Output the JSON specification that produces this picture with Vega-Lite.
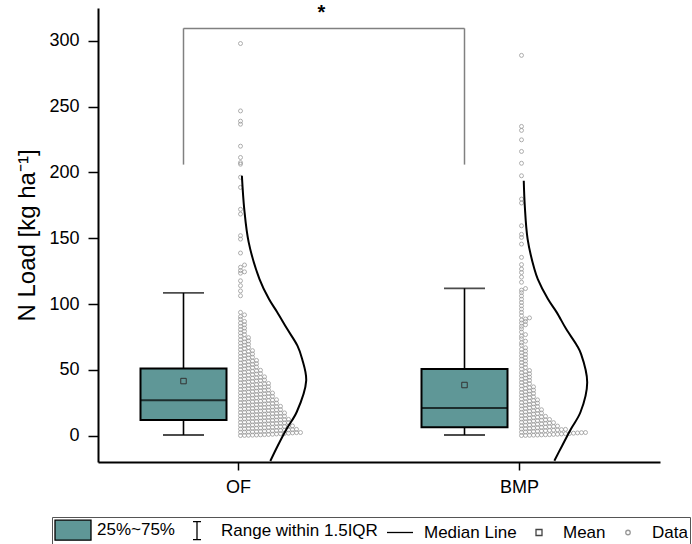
{
  "$schema": "https://vega.github.io/schema/vega-lite/v6.json",
  "width": 562,
  "height": 454,
  "autosize": {"type": "none"},
  "padding": {"left": 98, "top": 8, "right": 32, "bottom": 82},
  "background": "white",
  "config": {
    "font": "Liberation Sans",
    "view": {"stroke": null},
    "legend": {
      "orient": "none", "legendX": -46, "legendY": 509, "direction": "horizontal", "columns": 5,
      "strokeColor": "#555", "padding": 2, "labelFont": "Liberation Sans", "labelFontSize": 17,
      "labelColor": "#000", "symbolOpacity": 1, "columnPadding": 3, "labelOffset": 21, "symbolStrokeWidth": 1.3,
      "symbolSize": 400
    }
  },
  "datasets": {
    "stats": [
      {"g": "OF", "lo": 0.5, "q1": 12, "med": 27, "q3": 51, "hi": 108.5, "mean": 41.5},
      {"g": "BMP", "lo": 0.5, "q1": 6.4, "med": 21, "q3": 50.7, "hi": 112, "mean": 38.5}
    ],
    "legs": [
      {"g": "OF", "lo": 206, "hi": 309.5},
      {"g": "BMP", "lo": 206, "hi": 309.5}
    ],
    "bracket": [{"a": "OF", "b": "BMP", "top": 309.5, "sy": 321, "label": "*"}],
    "legend": [
      {"item": "25%~75%"}, {"item": "Range within 1.5IQR"}, {"item": "Median Line"}, {"item": "Mean"}, {"item": "Data"}
    ],
    "curve": [
      {"g": "OF", "v": -19.2, "d": 0.47}, {"g": "OF", "v": -7.6, "d": 0.58}, {"g": "OF", "v": 5.1, "d": 0.71},
      {"g": "OF", "v": 18, "d": 0.86}, {"g": "OF", "v": 41.8, "d": 1.0}, {"g": "OF", "v": 58.3, "d": 0.94},
      {"g": "OF", "v": 68.4, "d": 0.87}, {"g": "OF", "v": 81, "d": 0.72}, {"g": "OF", "v": 94, "d": 0.57},
      {"g": "OF", "v": 103.8, "d": 0.45}, {"g": "OF", "v": 119, "d": 0.31},
      {"g": "OF", "v": 147.1, "d": 0.15}, {"g": "OF", "v": 172.2, "d": 0.085}, {"g": "OF", "v": 197.5, "d": 0.05},
      {"g": "BMP", "v": -19, "d": 0.515}, {"g": "BMP", "v": -7.6, "d": 0.63}, {"g": "BMP", "v": 5.1, "d": 0.76},
      {"g": "BMP", "v": 17.8, "d": 0.90}, {"g": "BMP", "v": 40.5, "d": 1.0}, {"g": "BMP", "v": 62, "d": 0.91},
      {"g": "BMP", "v": 68.4, "d": 0.85}, {"g": "BMP", "v": 81, "d": 0.69}, {"g": "BMP", "v": 93.7, "d": 0.55},
      {"g": "BMP", "v": 103.8, "d": 0.42}, {"g": "BMP", "v": 119, "d": 0.27}, {"g": "BMP", "v": 126.6, "d": 0.22},
      {"g": "BMP", "v": 149.4, "d": 0.12}, {"g": "BMP", "v": 174.7, "d": 0.078}, {"g": "BMP", "v": 193.7, "d": 0.063}
    ],
    "pts": [
      {"g":"OF","v":0.1},{"g":"OF","v":0.2},{"g":"OF","v":0.3},{"g":"OF","v":0.4},{"g":"OF","v":0.5},{"g":"OF","v":0.6},{"g":"OF","v":0.8},{"g":"OF","v":0.9},{"g":"OF","v":1.1},{"g":"OF","v":1.3},{"g":"OF","v":1.5},{"g":"OF","v":1.7},{"g":"OF","v":1.9},{"g":"OF","v":2.1},{"g":"OF","v":2.3},{"g":"OF","v":2.4},
      {"g":"OF","v":2.6},{"g":"OF","v":2.7},{"g":"OF","v":2.8},{"g":"OF","v":3.0},{"g":"OF","v":3.1},{"g":"OF","v":3.3},{"g":"OF","v":3.4},{"g":"OF","v":3.6},{"g":"OF","v":3.7},{"g":"OF","v":3.9},{"g":"OF","v":4.0},{"g":"OF","v":4.2},{"g":"OF","v":4.4},{"g":"OF","v":4.6},{"g":"OF","v":4.8},
      {"g":"OF","v":5.1},{"g":"OF","v":5.2},{"g":"OF","v":5.4},{"g":"OF","v":5.5},{"g":"OF","v":5.7},{"g":"OF","v":5.8},{"g":"OF","v":6.0},{"g":"OF","v":6.2},{"g":"OF","v":6.4},{"g":"OF","v":6.6},{"g":"OF","v":6.8},{"g":"OF","v":7.0},{"g":"OF","v":7.2},{"g":"OF","v":7.4},
      {"g":"OF","v":7.6},{"g":"OF","v":7.7},{"g":"OF","v":7.9},{"g":"OF","v":8.1},{"g":"OF","v":8.3},{"g":"OF","v":8.5},{"g":"OF","v":8.7},{"g":"OF","v":8.9},{"g":"OF","v":9.1},{"g":"OF","v":9.3},{"g":"OF","v":9.5},{"g":"OF","v":9.7},{"g":"OF","v":9.9},
      {"g":"OF","v":10.1},{"g":"OF","v":10.2},{"g":"OF","v":10.4},{"g":"OF","v":10.6},{"g":"OF","v":10.8},{"g":"OF","v":11.0},{"g":"OF","v":11.2},{"g":"OF","v":11.4},{"g":"OF","v":11.6},{"g":"OF","v":11.8},{"g":"OF","v":12.0},{"g":"OF","v":12.2},{"g":"OF","v":12.4},
      {"g":"OF","v":12.6},{"g":"OF","v":12.8},{"g":"OF","v":13.0},{"g":"OF","v":13.2},{"g":"OF","v":13.4},{"g":"OF","v":13.6},{"g":"OF","v":13.8},{"g":"OF","v":14.0},{"g":"OF","v":14.2},{"g":"OF","v":14.4},{"g":"OF","v":14.6},{"g":"OF","v":14.8},
      {"g":"OF","v":15.1},{"g":"OF","v":15.3},{"g":"OF","v":15.5},{"g":"OF","v":15.7},{"g":"OF","v":15.9},{"g":"OF","v":16.1},{"g":"OF","v":16.3},{"g":"OF","v":16.5},{"g":"OF","v":16.7},{"g":"OF","v":16.9},{"g":"OF","v":17.1},{"g":"OF","v":17.3},
      {"g":"OF","v":17.6},{"g":"OF","v":17.8},{"g":"OF","v":18.0},{"g":"OF","v":18.2},{"g":"OF","v":18.5},{"g":"OF","v":18.7},{"g":"OF","v":18.9},{"g":"OF","v":19.1},{"g":"OF","v":19.3},{"g":"OF","v":19.5},{"g":"OF","v":19.8},
      {"g":"OF","v":20.1},{"g":"OF","v":20.3},{"g":"OF","v":20.5},{"g":"OF","v":20.7},{"g":"OF","v":21.0},{"g":"OF","v":21.2},{"g":"OF","v":21.4},{"g":"OF","v":21.6},{"g":"OF","v":21.9},{"g":"OF","v":22.1},{"g":"OF","v":22.3},
      {"g":"OF","v":22.6},{"g":"OF","v":22.9},{"g":"OF","v":23.1},{"g":"OF","v":23.3},{"g":"OF","v":23.6},{"g":"OF","v":23.8},{"g":"OF","v":24.0},{"g":"OF","v":24.2},{"g":"OF","v":24.4},{"g":"OF","v":24.7},
      {"g":"OF","v":25.1},{"g":"OF","v":25.3},{"g":"OF","v":25.5},{"g":"OF","v":25.8},{"g":"OF","v":26.0},{"g":"OF","v":26.2},{"g":"OF","v":26.5},{"g":"OF","v":26.8},{"g":"OF","v":27.0},{"g":"OF","v":27.3},
      {"g":"OF","v":27.6},{"g":"OF","v":27.8},{"g":"OF","v":28.1},{"g":"OF","v":28.4},{"g":"OF","v":28.7},{"g":"OF","v":29.0},{"g":"OF","v":29.3},{"g":"OF","v":29.6},{"g":"OF","v":29.9},
      {"g":"OF","v":30.1},{"g":"OF","v":30.3},{"g":"OF","v":30.6},{"g":"OF","v":30.9},{"g":"OF","v":31.2},{"g":"OF","v":31.5},{"g":"OF","v":31.8},{"g":"OF","v":32.1},{"g":"OF","v":32.4},
      {"g":"OF","v":32.6},{"g":"OF","v":32.9},{"g":"OF","v":33.2},{"g":"OF","v":33.5},{"g":"OF","v":33.8},{"g":"OF","v":34.1},{"g":"OF","v":34.4},{"g":"OF","v":34.7},
      {"g":"OF","v":35.1},{"g":"OF","v":35.4},{"g":"OF","v":35.7},{"g":"OF","v":36.0},{"g":"OF","v":36.3},{"g":"OF","v":36.6},{"g":"OF","v":36.9},{"g":"OF","v":37.2},
      {"g":"OF","v":37.6},{"g":"OF","v":37.9},{"g":"OF","v":38.2},{"g":"OF","v":38.5},{"g":"OF","v":38.8},{"g":"OF","v":39.1},{"g":"OF","v":39.4},{"g":"OF","v":39.7},
      {"g":"OF","v":40.2},{"g":"OF","v":40.5},{"g":"OF","v":40.9},{"g":"OF","v":41.2},{"g":"OF","v":41.6},{"g":"OF","v":41.9},{"g":"OF","v":42.3},
      {"g":"OF","v":42.6},{"g":"OF","v":43.0},{"g":"OF","v":43.3},{"g":"OF","v":43.7},{"g":"OF","v":44.0},{"g":"OF","v":44.3},{"g":"OF","v":44.7},
      {"g":"OF","v":45.2},{"g":"OF","v":45.6},{"g":"OF","v":46.0},{"g":"OF","v":46.4},{"g":"OF","v":46.8},{"g":"OF","v":47.2},
      {"g":"OF","v":47.7},{"g":"OF","v":48.1},{"g":"OF","v":48.5},{"g":"OF","v":48.9},{"g":"OF","v":49.3},{"g":"OF","v":49.7},
      {"g":"OF","v":50.2},{"g":"OF","v":50.7},{"g":"OF","v":51.2},{"g":"OF","v":51.7},{"g":"OF","v":52.2},
      {"g":"OF","v":52.7},{"g":"OF","v":53.2},{"g":"OF","v":53.7},{"g":"OF","v":54.2},{"g":"OF","v":54.7},
      {"g":"OF","v":55.2},{"g":"OF","v":55.7},{"g":"OF","v":56.2},{"g":"OF","v":56.7},{"g":"OF","v":57.2},
      {"g":"OF","v":57.8},{"g":"OF","v":58.4},{"g":"OF","v":59.0},{"g":"OF","v":59.6},
      {"g":"OF","v":60.3},{"g":"OF","v":60.9},{"g":"OF","v":61.5},{"g":"OF","v":62.1},
      {"g":"OF","v":62.8},{"g":"OF","v":63.4},{"g":"OF","v":64.0},{"g":"OF","v":64.6},
      {"g":"OF","v":65.4},{"g":"OF","v":66.2},{"g":"OF","v":67.0},
      {"g":"OF","v":67.9},{"g":"OF","v":68.7},{"g":"OF","v":69.5},
      {"g":"OF","v":70.4},{"g":"OF","v":71.2},{"g":"OF","v":72.0},
      {"g":"OF","v":72.9},{"g":"OF","v":73.7},{"g":"OF","v":74.5},
      {"g":"OF","v":75.6},{"g":"OF","v":76.8},{"g":"OF","v":78.1},{"g":"OF","v":79.3},{"g":"OF","v":80.6},{"g":"OF","v":81.8},
      {"g":"OF","v":83.1},{"g":"OF","v":84.3},{"g":"OF","v":85.6},{"g":"OF","v":86.8},{"g":"OF","v":88.5},{"g":"OF","v":90.5},{"g":"OF","v":91.8},{"g":"OF","v":93.7},
      {"g":"OF","v":106.3},{"g":"OF","v":110},{"g":"OF","v":114},{"g":"OF","v":117.7},{"g":"OF","v":123.5},{"g":"OF","v":124.5},{"g":"OF","v":125.5},{"g":"OF","v":128},{"g":"OF","v":129.7},
      {"g":"OF","v":138.8},{"g":"OF","v":149.4},{"g":"OF","v":152},{"g":"OF","v":168.4},{"g":"OF","v":172},{"g":"OF","v":188.7},{"g":"OF","v":196.4},{"g":"OF","v":206.3},{"g":"OF","v":207.5},
      {"g":"OF","v":211.4},{"g":"OF","v":220},{"g":"OF","v":236.7},{"g":"OF","v":239},{"g":"OF","v":246.8},{"g":"OF","v":298},
      {"g":"BMP","v":0.1},{"g":"BMP","v":0.2},{"g":"BMP","v":0.3},{"g":"BMP","v":0.4},{"g":"BMP","v":0.5},{"g":"BMP","v":0.6},{"g":"BMP","v":0.7},{"g":"BMP","v":0.8},{"g":"BMP","v":1.0},{"g":"BMP","v":1.1},{"g":"BMP","v":1.3},{"g":"BMP","v":1.5},{"g":"BMP","v":1.7},{"g":"BMP","v":1.9},{"g":"BMP","v":2.1},{"g":"BMP","v":2.3},{"g":"BMP","v":2.4},
      {"g":"BMP","v":2.6},{"g":"BMP","v":2.8},{"g":"BMP","v":3.0},{"g":"BMP","v":3.2},{"g":"BMP","v":3.4},{"g":"BMP","v":3.6},{"g":"BMP","v":3.8},{"g":"BMP","v":4.0},{"g":"BMP","v":4.2},{"g":"BMP","v":4.4},{"g":"BMP","v":4.6},{"g":"BMP","v":4.8},
      {"g":"BMP","v":5.1},{"g":"BMP","v":5.3},{"g":"BMP","v":5.5},{"g":"BMP","v":5.8},{"g":"BMP","v":6.0},{"g":"BMP","v":6.3},{"g":"BMP","v":6.5},{"g":"BMP","v":6.8},{"g":"BMP","v":7.0},{"g":"BMP","v":7.3},
      {"g":"BMP","v":7.6},{"g":"BMP","v":7.9},{"g":"BMP","v":8.1},{"g":"BMP","v":8.4},{"g":"BMP","v":8.7},{"g":"BMP","v":9.0},{"g":"BMP","v":9.3},{"g":"BMP","v":9.6},{"g":"BMP","v":9.9},
      {"g":"BMP","v":10.2},{"g":"BMP","v":10.5},{"g":"BMP","v":10.8},{"g":"BMP","v":11.1},{"g":"BMP","v":11.4},{"g":"BMP","v":11.7},{"g":"BMP","v":12.0},{"g":"BMP","v":12.3},
      {"g":"BMP","v":12.7},{"g":"BMP","v":13.0},{"g":"BMP","v":13.3},{"g":"BMP","v":13.7},{"g":"BMP","v":14.0},{"g":"BMP","v":14.3},{"g":"BMP","v":14.7},
      {"g":"BMP","v":15.2},{"g":"BMP","v":15.6},{"g":"BMP","v":16.0},{"g":"BMP","v":16.4},{"g":"BMP","v":16.8},{"g":"BMP","v":17.2},
      {"g":"BMP","v":17.7},{"g":"BMP","v":18.1},{"g":"BMP","v":18.5},{"g":"BMP","v":18.9},{"g":"BMP","v":19.3},{"g":"BMP","v":19.7},
      {"g":"BMP","v":20.2},{"g":"BMP","v":20.7},{"g":"BMP","v":21.2},{"g":"BMP","v":21.7},{"g":"BMP","v":22.2},
      {"g":"BMP","v":22.7},{"g":"BMP","v":23.2},{"g":"BMP","v":23.7},{"g":"BMP","v":24.2},{"g":"BMP","v":24.7},
      {"g":"BMP","v":25.2},{"g":"BMP","v":25.7},{"g":"BMP","v":26.2},{"g":"BMP","v":26.7},{"g":"BMP","v":27.2},
      {"g":"BMP","v":27.8},{"g":"BMP","v":28.4},{"g":"BMP","v":29.0},{"g":"BMP","v":29.6},
      {"g":"BMP","v":30.3},{"g":"BMP","v":30.9},{"g":"BMP","v":31.5},{"g":"BMP","v":32.1},
      {"g":"BMP","v":32.8},{"g":"BMP","v":33.4},{"g":"BMP","v":34.0},{"g":"BMP","v":34.6},
      {"g":"BMP","v":35.3},{"g":"BMP","v":35.9},{"g":"BMP","v":36.5},{"g":"BMP","v":37.1},
      {"g":"BMP","v":37.9},{"g":"BMP","v":38.7},{"g":"BMP","v":39.5},
      {"g":"BMP","v":40.4},{"g":"BMP","v":41.2},{"g":"BMP","v":42.0},
      {"g":"BMP","v":42.9},{"g":"BMP","v":43.7},{"g":"BMP","v":44.5},
      {"g":"BMP","v":45.4},{"g":"BMP","v":46.2},{"g":"BMP","v":47.0},
      {"g":"BMP","v":47.9},{"g":"BMP","v":48.7},{"g":"BMP","v":49.5},
      {"g":"BMP","v":50.6},{"g":"BMP","v":51.8},{"g":"BMP","v":53.1},{"g":"BMP","v":54.3},{"g":"BMP","v":55.6},{"g":"BMP","v":56.8},
      {"g":"BMP","v":58.1},{"g":"BMP","v":59.3},{"g":"BMP","v":60.6},{"g":"BMP","v":61.8},{"g":"BMP","v":63.1},{"g":"BMP","v":64.3},
      {"g":"BMP","v":65.6},{"g":"BMP","v":66.8},{"g":"BMP","v":68.7},{"g":"BMP","v":70.6},{"g":"BMP","v":71.8},{"g":"BMP","v":73.7},
      {"g":"BMP","v":75.6},{"g":"BMP","v":76.8},{"g":"BMP","v":78.7},{"g":"BMP","v":81.2},{"g":"BMP","v":83.1},{"g":"BMP","v":84.3},
      {"g":"BMP","v":85.6},{"g":"BMP","v":86.8},{"g":"BMP","v":87.9},{"g":"BMP","v":88.7},{"g":"BMP","v":89.5},{"g":"BMP","v":91.2},
      {"g":"BMP","v":93.7},{"g":"BMP","v":96.2},{"g":"BMP","v":98.7},{"g":"BMP","v":101.2},{"g":"BMP","v":103.7},{"g":"BMP","v":106.2},
      {"g":"BMP","v":108.7},{"g":"BMP","v":110.6},{"g":"BMP","v":111.8},{"g":"BMP","v":116.6},
      {"g":"BMP","v":120.5},{"g":"BMP","v":124},{"g":"BMP","v":126.6},{"g":"BMP","v":130},{"g":"BMP","v":135.5},{"g":"BMP","v":145.6},
      {"g":"BMP","v":150.7},{"g":"BMP","v":153},{"g":"BMP","v":159.5},{"g":"BMP","v":176.8},{"g":"BMP","v":179.8},{"g":"BMP","v":197.5},
      {"g":"BMP","v":207},{"g":"BMP","v":216},{"g":"BMP","v":224.8},{"g":"BMP","v":232},{"g":"BMP","v":235},{"g":"BMP","v":289}
    ]
  },
  "layer": [
    {
      "data": {"name": "legs"},
      "mark": {"type": "rule", "color": "#808080", "strokeWidth": 1.5, "xOffset": -55},
      "encoding": {
        "x": {
          "field": "g", "type": "nominal", "sort": ["OF", "BMP"],
          "scale": {"domain": ["OF", "BMP"], "paddingInner": 0, "paddingOuter": 0},
          "axis": {"title": null, "labelFontSize": 18, "labelColor": "#000", "labelPadding": 8, "tickSize": 8, "tickWidth": 1.5, "tickColor": "#000", "domainColor": "#000", "domainWidth": 2, "labelAngle": 0, "grid": false}
        },
        "y": {
          "field": "lo", "type": "quantitative",
          "scale": {"domain": [-20, 325], "nice": false, "zero": false},
          "axis": {
            "title": "N Load [kg ha⁻¹]", "titleFontSize": 24, "titleFontWeight": "normal", "titleColor": "#000", "titlePadding": 9,
            "values": [0, 25, 50, 75, 100, 125, 150, 175, 200, 225, 250, 275, 300, 325],
            "labelExpr": "datum.value % 50 === 0 ? datum.label : ''",
            "labelFontSize": 18, "labelColor": "#000", "labelPadding": 9,
            "tickSize": {"condition": {"test": "datum.value % 50 === 0", "value": 10}, "value": 5},
            "tickWidth": 1.5, "tickColor": "#000", "domainColor": "#000", "domainWidth": 2, "grid": false
          }
        },
        "y2": {"field": "hi"}
      }
    },
    {
      "data": {"name": "bracket"},
      "mark": {"type": "rule", "color": "#808080", "strokeWidth": 1.5, "xOffset": -55, "x2Offset": -55},
      "encoding": {
        "x": {"field": "a", "type": "nominal"},
        "x2": {"field": "b"},
        "y": {"field": "top", "type": "quantitative"}
      }
    },
    {
      "data": {"name": "bracket"},
      "mark": {"type": "text", "fontSize": 20, "fontWeight": "bold", "color": "#000", "baseline": "middle", "xOffset": 83},
      "encoding": {
        "x": {"field": "a", "type": "nominal"},
        "y": {"field": "sy", "type": "quantitative"},
        "text": {"field": "label"}
      }
    },
    {
      "data": {"name": "stats"},
      "mark": {"type": "rule", "color": "#000", "strokeWidth": 1.6, "xOffset": -55},
      "encoding": {
        "x": {"field": "g", "type": "nominal"},
        "y": {"field": "lo", "type": "quantitative"},
        "y2": {"field": "hi"}
      }
    },
    {
      "data": {"name": "stats"},
      "mark": {"type": "tick", "color": "#000", "size": 41, "thickness": 1.8, "xOffset": -55},
      "encoding": {
        "x": {"field": "g", "type": "nominal"},
        "y": {"field": "lo", "type": "quantitative"}
      }
    },
    {
      "data": {"name": "stats"},
      "mark": {"type": "tick", "color": "#000", "size": 41, "thickness": 1.8, "xOffset": -55},
      "encoding": {
        "x": {"field": "g", "type": "nominal"},
        "y": {"field": "hi", "type": "quantitative"}
      }
    },
    {
      "data": {"name": "stats"},
      "mark": {"type": "bar", "width": 86, "xOffset": -55, "fill": "#5F9797", "stroke": "#000", "strokeWidth": 2},
      "encoding": {
        "x": {"field": "g", "type": "nominal"},
        "y": {"field": "q1", "type": "quantitative"},
        "y2": {"field": "q3"}
      }
    },
    {
      "data": {"name": "stats"},
      "mark": {"type": "tick", "color": "#000", "size": 86, "thickness": 2, "xOffset": -55},
      "encoding": {
        "x": {"field": "g", "type": "nominal"},
        "y": {"field": "med", "type": "quantitative"}
      }
    },
    {
      "data": {"name": "stats"},
      "mark": {"type": "point", "shape": "square", "size": 30, "filled": false, "stroke": "#333", "strokeWidth": 1, "xOffset": -55, "opacity": 1},
      "encoding": {
        "x": {"field": "g", "type": "nominal"},
        "y": {"field": "mean", "type": "quantitative"}
      }
    },
    {
      "data": {"name": "pts"},
      "transform": [
        {"bin": {"step": 2.5, "anchor": 0}, "field": "v", "as": "vb"},
        {"window": [{"op": "row_number", "as": "rank"}], "groupby": ["g", "vb"], "sort": [{"field": "v"}]}
      ],
      "mark": {"type": "point", "shape": "circle", "size": 16, "filled": false, "stroke": "#9a9a9a", "strokeWidth": 0.8, "opacity": 1},
      "encoding": {
        "x": {"field": "g", "type": "nominal"},
        "xOffset": {"field": "rank", "type": "quantitative", "scale": {"domain": [1, 17], "range": [142.5, 206.5], "zero": false, "nice": false}},
        "y": {"field": "v", "type": "quantitative"}
      }
    },
    {
      "data": {"name": "curve"},
      "mark": {"type": "line", "color": "#000", "strokeWidth": 2, "interpolate": "catmull-rom"},
      "encoding": {
        "x": {"field": "g", "type": "nominal"},
        "xOffset": {"field": "d", "type": "quantitative", "scale": {"domain": [0, 1], "range": [140.5, 208.2], "zero": false, "nice": false}},
        "y": {"field": "v", "type": "quantitative"},
        "detail": {"field": "g"},
        "order": {"field": "v", "type": "quantitative"}
      }
    },
    {
      "data": {"name": "legend"},
      "mark": {"type": "point", "opacity": 0, "size": 400},
      "encoding": {
        "shape": {"field": "item", "type": "nominal", "title": null,
          "scale": {"domain": ["25%~75%", "Range within 1.5IQR", "Median Line", "Mean", "Data"],
                    "range": ["M-1,-1H2.6V1H-1Z", "M0.4,-0.9H1.2M0.8,-0.9V0.9M0.4,0.9H1.2", "M-0.5,0H2.1", "M0.5,-0.3H1.1V0.3H0.5Z", "M1.025,0A0.225,0.225,0,1,1,0.575,0A0.225,0.225,0,1,1,1.025,0Z"]}},
        "fill": {"field": "item", "type": "nominal", "title": null,
          "scale": {"domain": ["25%~75%", "Range within 1.5IQR", "Median Line", "Mean", "Data"], "range": ["#5F9797", "transparent", "transparent", "transparent", "transparent"]}},
        "stroke": {"field": "item", "type": "nominal", "title": null,
          "scale": {"domain": ["25%~75%", "Range within 1.5IQR", "Median Line", "Mean", "Data"], "range": ["#000", "#000", "#000", "#444", "#999"]}}
      }
    }
  ],
  "resolve": {"scale": {"xOffset": "independent"}}
}
